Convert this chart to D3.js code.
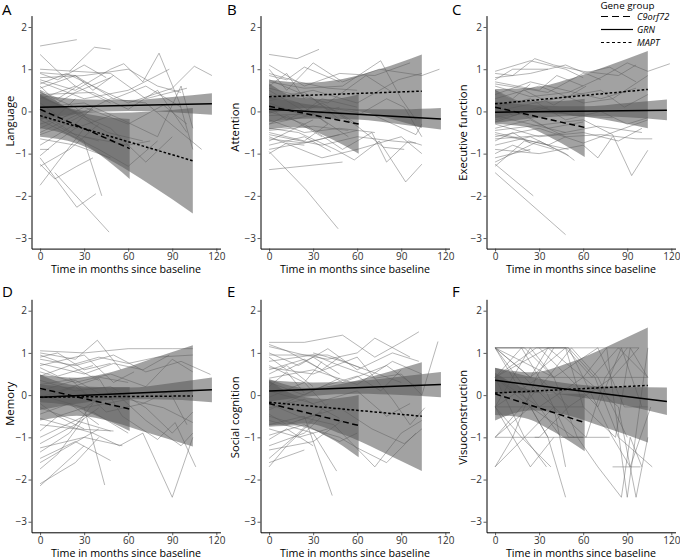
<!DOCTYPE html>
<html><head><meta charset="utf-8">
<script src="https://cdn.jsdelivr.net/npm/d3@7"></script>
<style>
body{margin:0;background:#fff;}
svg{display:block;font-family:"Open Sans",sans-serif;}
</style></head><body>
<svg id="chart" width="680" height="560"></svg>
<script>
// ---------- data ----------
const groups = ["C9orf72", "GRN", "MAPT"];
const panelLetters = ["A","B","C","D","E","F"];
const domainNames = ["Language","Attention","Executive function","Memory","Social cognition","Visuoconstruction"];
const xTicks = [0,30,60,90,120];
const yTicks = [-3,-2,-1,0,1,2];
const xTitle = "Time in months since baseline";
const legendTitle = "Gene group";

// individual trajectories: flat [t0,v0,t1,v1,...]
const languageLines = [
[0,1.55,25,1.7],[0,1.35,12,0.95,24,0.6],[20,0.95,37,1.52,48,1.47],[0,0.92,24,0.85,36,0.5,50,0.85],
[0,0.9,12,0.75,30,1.1,45,0.8],[0,0.75,24,0.5,48,1.0,57,1.13,70,0.7,81,1.38,95,0.2,104,-0.9],
[0,0.7,30,0.3,60,0.5,88,1.0],[0,0.65,18,0.9,36,0.6,60,0.2,90,0.55,105,1.07,117,0.85],
[0,0.6,12,0.2,24,0.45,48,0.8],[0,0.55,24,0.85,50,0.3,72,0.6,96,0.1],[0,0.5,12,0.3,30,0.7],
[0,0.45,24,0.1,36,-0.3],[0,0.4,36,0.45,60,0.05,80,0.5,100,-0.5],[0,0.3,24,0.6,48,0.2],
[0,0.2,12,-0.1,24,0.3],[0,0.1,30,0.2,56,-0.2,80,-0.6,96,0.6,104,-0.4],[0,0.05,24,-0.4,48,-0.1],
[0,-0.1,20,-0.5,40,-0.7],[0,-0.3,24,-0.05,46,-0.5,70,-0.7],[0,-0.4,30,0.1,60,-0.3,84,0.15,100,-0.3],
[0,-0.55,12,-0.4,36,0.05],[0,-0.65,24,-0.8,48,-1.1],[0,-0.8,24,-0.3,36,0.1],[0,-0.9,6,-0.9],
[0,-1.05,12,-0.7,24,-0.4],[0,-1.25,10,-1.6,25,-1.3,36,-1.1],[0,-1.1,25,-2.27,38,-1.95],
[10,-1.45,47,-2.86],[0,-1.75,12,-1.2,30,-0.4],[0,-1.3,20,-0.9,40,-0.3],[0,-0.2,40,-0.9,60,-1.3,80,-0.7],
[0,1.0,48,0.9,72,0.3,100,0.55],[0,0.8,30,0.85,60,1.0,80,0.6,96,0.45],[0,0.35,48,-0.4,72,-1.2,90,-0.6],
[30,-0.6,60,-0.8,75,-0.7],[0,0.0,30,-0.7,42,-2.0],[0,-0.5,48,0.3,72,0.2,96,-0.5,110,-0.9]
];
const attentionLines = [
[0,1.35,19,1.25,34,1.47],[0,1.1,24,0.6,48,0.9,72,0.85,96,1.15],[0,1.0,12,0.5,30,1.15,50,0.7,75,1.0,104,0.85,116,1.0],
[0,0.9,20,0.7,40,0.55,60,0.5],[0,0.85,12,0.75,24,1.05,48,0.7],[0,0.75,30,0.3,48,-0.2],
[0,0.7,24,0.55,50,0.6,76,1.2,90,0.3,100,-0.2],[0,0.6,12,0.9,24,0.3],[0,0.5,24,0.0,36,0.3,60,0.1],
[0,0.4,20,0.2,40,-0.3],[0,0.3,30,0.5,60,0.2,88,0.75,104,0.9],[0,0.2,24,-0.1,48,0.1],
[0,0.1,12,-0.2,36,0.2,60,-0.3],[0,0.0,24,-0.3,50,-0.9,70,-0.5,80,-1.2,95,-0.7,104,-0.8],
[0,-0.1,30,-0.05,54,-0.6],[0,-0.2,24,-0.5,48,-0.4,72,-0.5],[0,-0.3,12,-0.1,36,-0.6],
[0,-0.4,20,-0.5,45,-0.9,58,-1.15,75,-0.7,93,-1.67,104,-1.25],[0,-0.5,24,-0.7,40,-0.3],
[0,-0.55,36,-0.8,60,-0.6,84,-0.7,100,-0.75],[0,-0.65,24,-0.75,48,-0.55],[0,-0.7,12,-0.5,30,-0.2],
[0,-0.8,24,-0.6,42,-0.95],[0,-0.9,30,-0.7,60,-0.45],[0,-1.0,12,-0.75,24,-0.8],[0,-1.38,50,-1.2],
[0,-0.95,25,-1.85,47,-2.78],[0,-0.6,36,-1.1,60,-0.9,90,-0.6,104,-1.0],[40,0.1,60,-0.35,78,-0.85,92,-0.9],
[0,0.55,40,0.2,66,0.85,84,0.45],[0,-0.3,48,0.05,72,-0.1,100,-0.55,104,-0.3],[0,0.25,24,0.45,42,0.0],
[0,-0.45,30,-0.35,54,-0.45],[60,-0.1,80,0.3,92,0.1,104,-0.6]
];
const executiveLines = [
[0,0.95,24,1.2,48,1.0,60,0.8],[0,0.9,12,0.85,27,1.25,40,1.1,60,0.95,84,0.85,96,1.1],[0,0.8,24,0.9,48,1.1,72,0.75],
[0,0.75,12,1.0,36,1.0],[0,0.7,30,0.5,42,0.85,60,0.6],[0,0.6,24,0.35,50,0.45,72,0.8,90,1.15,104,0.95,119,1.13],
[0,0.5,12,0.3,24,0.65],[0,0.4,24,0.7,48,0.5,72,0.3,96,0.55],[0,0.3,30,0.6,60,0.2,80,0.3,104,0.85],
[0,0.2,12,-0.1,36,0.1],[0,0.1,24,0.3,48,-0.2,72,0.0,90,-0.3,104,-0.15],[0,-0.1,24,-0.3,48,-0.5],
[0,-0.2,18,-0.05,36,-0.4,60,-0.25],[0,-0.3,30,-0.6,60,-0.5,84,-0.7,100,-0.4],
[0,-0.4,24,-0.2,48,-0.6,72,-0.55,96,-0.65,107,-0.65],[0,-0.5,12,-0.6,36,-0.8,48,-0.6],[0,-0.55,24,-0.7,50,-0.9],
[0,-0.6,30,-0.4,60,-0.75,84,-0.45,104,-0.2],[0,-0.7,12,-0.5,24,-0.75],[0,-0.8,24,-0.6,48,-1.0,54,-1.16],
[0,-0.9,30,-1.0,60,-0.8,70,-1.1,80,-0.6],[0,-1.0,12,-0.8,24,-0.95],[0,-1.1,24,-0.9],[0,-1.25,26,-2.0],
[0,-1.45,48,-2.92],[0,-1.3,20,-0.7,40,-0.9],[0,-0.45,36,-0.3,60,-0.2,80,-0.55,93,-1.52,104,-0.92],
[0,0.0,48,0.35,72,0.5,88,0.1,104,0.4],[0,-0.25,30,0.1,54,-0.1,80,-0.15],[20,0.5,40,0.15,62,0.6],
[0,0.65,36,0.45,60,0.9,78,1.05,96,0.7],[0,-0.65,40,-0.55,70,-0.35,100,-0.5],[0,-1.2,30,-0.7,50,-1.05]
];
const memoryLines = [
[0,1.05,30,1.0,60,1.1,90,1.1,104,1.1],[0,1.0,24,0.85,39,1.3,55,0.6],[0,0.95,20,0.7,40,0.9,60,0.75,80,0.9,104,0.95],
[0,0.9,12,1.0,30,0.6,48,0.75],[0,0.85,24,0.7,50,0.95,72,0.55,96,0.8,116,0.49],[0,0.75,30,0.5,50,0.75,70,0.6,88,0.95],
[0,0.65,12,0.45,36,0.7],[0,0.55,24,0.3,48,0.5,72,0.2,90,0.85,104,0.55],[0,0.45,20,0.7,40,0.35],
[0,0.35,24,0.1,48,0.2,72,-0.3,90,-0.9,104,-0.4],[0,0.25,36,0.45,60,0.3],[0,0.1,24,0.35,48,-0.1],
[0,0.0,30,-0.3,60,-0.1,84,-0.3,104,-0.65],[0,-0.1,24,0.2,36,-0.1],[0,-0.2,12,-0.5,30,-0.3,44,-2.13],
[0,-0.3,24,-0.6,48,-0.85],[0,-0.45,20,-0.2,40,-0.7],[0,-0.55,36,-0.9,54,-1.2,70,-0.9,90,-2.42,104,-1.0],
[0,-0.7,24,-0.8,50,-0.85],[0,-0.85,12,-0.5,30,-0.8],[0,-1.15,24,-0.7,40,-0.3],[0,-1.25,30,-1.0,56,-1.2],
[0,-1.35,20,-0.9,36,-0.2],[0,-1.5,24,-1.1,48,-1.55],[0,-1.6,20,-1.2,40,-0.8],[0,-1.75,12,-1.4,30,-0.55],
[0,-2.1,24,-1.6,40,-1.0],[0,-2.15,30,-1.2],[0,-0.05,40,0.4,56,-0.5,80,-1.05,92,-0.65,106,-1.7],
[30,-0.3,50,0.1,72,-0.6,96,-1.2,104,-0.9],[0,0.7,30,0.95,50,0.3,64,0.55],[0,-1.0,36,-0.4,60,-0.9],
[20,0.4,45,-0.4,70,-0.2,88,0.1,100,-0.7]
];
const socialLines = [
[0,1.25,24,1.25,50,1.42,72,0.9,90,1.25,102,1.5],[0,1.2,12,1.05,36,0.6,48,0.9],[0,1.15,24,0.95,40,0.85,60,1.0,72,1.35,96,0.9],
[0,1.0,20,0.7,40,1.1,60,0.6,84,1.0,102,0.8],[0,0.9,12,0.6,30,0.9,48,0.5],
[0,0.8,30,0.95,48,0.7,72,0.4,90,0.5,104,0.0,115,1.27],[0,0.7,24,0.3,36,0.8],[0,0.6,24,0.85,50,0.3,80,0.7,100,0.2],
[0,0.5,12,0.7,30,0.2],[0,0.4,30,0.6,60,0.25,84,0.8,104,0.5],[0,0.3,24,0.0,48,0.4],[0,0.2,12,0.55,24,0.05],
[0,0.1,30,-0.2,60,0.1,80,-0.5,96,-0.2],[0,-0.05,24,0.3,40,-0.3],[0,-0.2,20,-0.5,44,-0.7,72,-1.7,90,-0.9,104,-0.6],
[0,-0.3,24,-0.1,48,-0.55],[0,-0.45,12,-0.7,36,-0.4],[0,-0.6,30,-0.9,46,-1.8],[0,-0.7,24,-0.5,43,-2.38],
[0,-0.8,20,-1.0,40,-0.8],[0,-0.95,24,-0.7,48,-1.1,60,-0.9],[0,-1.05,12,-0.8,30,-1.2],[0,-1.2,24,-0.9,36,-0.5],
[0,-1.3,30,-1.1,50,-0.6],[0,-1.5,20,-0.9,40,-0.2],[0,-1.6,24,-1.3],[0,-1.7,12,-1.2,30,-0.6],
[0,0.65,30,0.5,60,0.9,84,-0.1,96,-0.7,106,-0.3],[20,-0.6,48,-0.3,70,-0.8,92,-1.15,104,-0.8],
[0,-0.35,36,0.2,60,0.45,76,0.1,90,0.6],[30,1.0,50,0.8,70,0.55,90,0.3],[0,0.95,40,0.95,62,0.65],
[0,-0.5,48,-1.0,60,-1.25,80,-1.6,100,-0.9]
];
const visuoLines = [
[0,1.12,98,1.12],[0,0.42,104,0.42],[0,-0.28,60,-0.28],[27,-1.0,78,-1.0],[80,-1.7,99,-1.7],
[0,1.12,24,0.42,36,1.12,50,1.12,60,0.42],[0,0.42,28,1.12,48,1.12,66,0.42,84,1.12,104,0.42],
[0,1.12,12,0.42,24,-0.28,36,-1.0,48,-2.42],[0,0.42,24,-0.28,54,-1.0],[0,-1.0,18,-0.28,36,0.42,52,1.12,70,0.42,90,-1.0],
[0,-1.7,12,-1.0,28,0.42,40,1.12],[0,1.12,30,-0.28,45,-1.0,60,-1.0],[0,0.42,20,-1.0,35,-1.7],[0,-0.28,24,-1.7,40,-1.0],
[0,1.12,20,1.12,40,0.42,56,-1.0,70,-1.7,86,-2.42,92,-1.0,100,-1.7],[0,-0.28,30,0.42,50,-0.28,80,0.42,98,1.12],
[0,0.42,36,1.12,60,0.42,76,1.12,90,-2.42,104,1.12],[0,1.12,50,1.12,68,0.42,84,-1.0,107,-1.7],[0,-1.0,24,-0.28,36,-1.0],
[0,-0.28,12,0.42,24,1.12,40,0.42],[0,0.42,18,1.12,30,0.42,50,-1.0,60,-1.0],[30,1.12,50,0.42,70,-0.28,86,1.12,100,-0.28],
[0,-1.7,20,-1.0,40,-0.28,48,-1.7],[0,1.12,24,0.42,48,1.12,60,-0.28,82,-1.0,92,1.12,104,0.42],
[0,0.42,30,-0.28,60,0.42,84,-0.28,96,-2.42,104,-1.0],[0,-0.28,18,-1.0,38,-1.7],[20,0.42,40,-0.28,62,-1.0,75,0.42,90,1.12],
[0,1.12,40,0.42,70,1.12,88,-0.28,104,-0.28],[0,-1.0,30,-1.0,50,-0.28],[60,0.42,80,-1.0,92,-1.7,106,-0.28]
];

// fitted group lines (order = groups): [t0, v0, t1, v1]
const languageFits  = [[0,0.05,61,-0.88],[0,0.10,117,0.18],[0,-0.10,104,-1.17]];
const attentionFits = [[0,0.12,61,-0.30],[0,0.05,117,-0.18],[0,0.35,104,0.48]];
const executiveFits = [[0,0.10,61,-0.38],[0,-0.02,117,0.03],[0,0.18,104,0.52]];
const memoryFits    = [[0,0.16,61,-0.33],[0,-0.05,117,0.13],[0,-0.05,104,-0.02]];
const socialFits    = [[0,-0.20,61,-0.72],[0,0.10,117,0.25],[0,-0.17,104,-0.50]];
const visuoFits     = [[0,0.03,61,-0.65],[0,0.35,117,-0.15],[0,0.05,104,0.23]];

// confidence bands (order = groups): [t, lower, upper]
const languageBands = [
 [[0,-0.40,0.50],[20,-0.58,0.07],[40,-1.01,-0.11],[61,-1.60,-0.18]],
 [[0,-0.20,0.40],[30,-0.04,0.28],[60,0.01,0.27],[90,-0.02,0.34],[117,-0.08,0.43]],
 [[0,-0.60,0.40],[25,-0.76,0.04],[50,-1.20,-0.03],[75,-1.74,0.00],[104,-2.42,0.08]]];
const attentionBands = [
 [[0,-0.43,0.67],[20,-0.37,0.33],[40,-0.61,0.29],[61,-1.00,0.40]],
 [[0,-0.25,0.35],[30,-0.17,0.15],[60,-0.19,0.05],[90,-0.31,0.05],[117,-0.43,0.08]],
 [[0,-0.05,0.75],[25,0.08,0.68],[50,0.05,0.77],[75,-0.10,1.00],[104,-0.39,1.35]]];
const executiveBands = [
 [[0,-0.30,0.50],[20,-0.36,0.24],[40,-0.66,0.24],[61,-1.08,0.30]],
 [[0,-0.27,0.23],[30,-0.15,0.14],[60,-0.10,0.12],[90,-0.14,0.20],[117,-0.21,0.28]],
 [[0,-0.17,0.53],[25,-0.04,0.56],[50,-0.08,0.76],[75,-0.20,1.06],[104,-0.40,1.43]]];
const memoryBands = [
 [[0,-0.17,0.49],[20,-0.25,0.25],[40,-0.51,0.19],[61,-0.85,0.19]],
 [[0,-0.35,0.25],[30,-0.18,0.18],[60,-0.10,0.18],[90,-0.11,0.29],[117,-0.17,0.42]],
 [[0,-0.60,0.48],[25,-0.49,0.41],[50,-0.64,0.56],[75,-0.91,0.85],[104,-1.22,1.18]]];
const socialBands = [
 [[0,-0.75,0.35],[20,-0.72,-0.02],[40,-0.99,-0.09],[61,-1.47,0.00]],
 [[0,-0.15,0.35],[30,-0.02,0.30],[60,0.03,0.33],[90,0.00,0.44],[117,-0.05,0.55]],
 [[0,-0.72,0.38],[25,-0.67,0.17],[50,-0.93,0.27],[75,-1.31,0.49],[104,-1.80,0.78]]];
const visuoBands = [
 [[0,-0.47,0.53],[20,-0.54,0.16],[40,-0.87,0.03],[61,-1.33,0.03]],
 [[0,0.05,0.65],[30,0.05,0.39],[60,-0.06,0.24],[90,-0.25,0.19],[117,-0.47,0.18]],
 [[0,-0.60,0.64],[25,-0.36,0.54],[50,-0.48,0.76],[75,-0.77,1.13],[104,-1.12,1.60]]];

// ---------- layout ----------
const svg = d3.select("#chart");
const panelLines = [languageLines, attentionLines, executiveLines, memoryLines, socialLines, visuoLines];
const panelFits  = [languageFits, attentionFits, executiveFits, memoryFits, socialFits, visuoFits];
const panelBands = [languageBands, attentionBands, executiveBands, memoryBands, socialBands, visuoBands];

const colLeft = [31.5, 260.5, 486.5];
const rowTop = [15.6, 299.3];
const plotW = 189, plotH = 233;
const titleX = [10, 235, 463];
const titleYoff = [[-11, -5, 0.5], [-12, 1.5, 1.5]];
const xTitleOff = [24.6, 24.6];
const letterX = [2, 227, 452];
const dashStyles = {"C9orf72":"6,3.5", "GRN":null, "MAPT":"2.6,2"};
const fmt = d3.format("d");

panelLetters.forEach((letter, i) => {
  const col = i % 3, row = Math.floor(i / 3);
  const L = colLeft[col], T = rowTop[row];
  const x = d3.scaleLinear().domain([-5.85, 122.85]).range([L, L + plotW]);
  const y = d3.scaleLinear().domain([-3.25, 2.27]).range([T + plotH, T]);
  const g = svg.append("g");

  // individual trajectories
  const lineGen = d3.line().x(d => x(d[0])).y(d => y(d[1]));
  panelLines[i].forEach(arr => {
    const pts = [];
    for (let k = 0; k < arr.length; k += 2) pts.push([arr[k], arr[k+1]]);
    g.append("path").attr("d", lineGen(pts))
      .attr("fill", "none").attr("stroke", "#6a6a6a").attr("stroke-width", 0.55).attr("stroke-opacity", 0.9);
  });

  // bands
  const area = d3.area().x(d => x(d[0])).y0(d => y(d[1])).y1(d => y(d[2])).curve(d3.curveMonotoneX);
  panelBands[i].forEach(b => {
    g.append("path").attr("d", area(b)).attr("fill", "#555").attr("fill-opacity", 0.55);
  });

  // fits
  panelFits[i].forEach((f, gi) => {
    const p = g.append("path").attr("d", lineGen([[f[0], f[1]], [f[2], f[3]]]))
      .attr("fill", "none").attr("stroke", "#000").attr("stroke-width", 1.5);
    if (dashStyles[groups[gi]]) p.attr("stroke-dasharray", dashStyles[groups[gi]]);
  });

  // axes
  const xa = g.append("g").attr("transform", `translate(0,${T + plotH})`)
    .call(d3.axisBottom(x).tickValues(xTicks).tickSize(3).tickSizeOuter(0).tickPadding(1.5).tickFormat(fmt));
  const ya = g.append("g").attr("transform", `translate(${L},0)`)
    .call(d3.axisLeft(y).tickValues(yTicks).tickSize(3).tickSizeOuter(0).tickPadding(1.5).tickFormat(fmt));
  [xa, ya].forEach(a => {
    a.select(".domain").attr("stroke", "#000").attr("stroke-width", 1);
    a.selectAll(".tick line").attr("stroke", "#333").attr("stroke-width", 0.8);
    a.selectAll(".tick text").attr("fill", "#333").style("font-size", "10px").style("font-family", "Open Sans");
  });

  // titles
  g.append("text").attr("x", L + plotW / 2).attr("y", T + plotH + xTitleOff[row])
    .attr("text-anchor", "middle").style("font-size", "10.7px").attr("fill", "#000").text(xTitle);
  const cy = T + plotH / 2 + titleYoff[row][col];
  g.append("text").attr("transform", `translate(${titleX[col] + 4},${cy}) rotate(-90)`)
    .attr("text-anchor", "middle").style("font-size", "11.3px").attr("fill", "#000").text(domainNames[i]);
  g.append("text").attr("x", letterX[col]).attr("y", row === 0 ? 15 : 297)
    .style("font-size", "15px").attr("fill", "#000").text(letter);
});

// legend
const lg = svg.append("g");
lg.append("text").attr("x", 600.5).attr("y", 8.5).style("font-size", "9.8px").attr("fill", "#000").text(legendTitle);
groups.forEach((gname, i) => {
  const yy = 16.5 + i * 13;
  const l = lg.append("line").attr("x1", 601).attr("x2", 633).attr("y1", yy).attr("y2", yy)
    .attr("stroke", "#000").attr("stroke-width", 1.2);
  if (dashStyles[gname]) l.attr("stroke-dasharray", gname === "MAPT" ? "3,2.5" : "7,4");
  lg.append("text").attr("x", 637).attr("y", yy + 3.3).style("font-size", "9.2px")
    .style("font-style", "italic").attr("fill", "#000").text(gname);
});
</script>
</body></html>
